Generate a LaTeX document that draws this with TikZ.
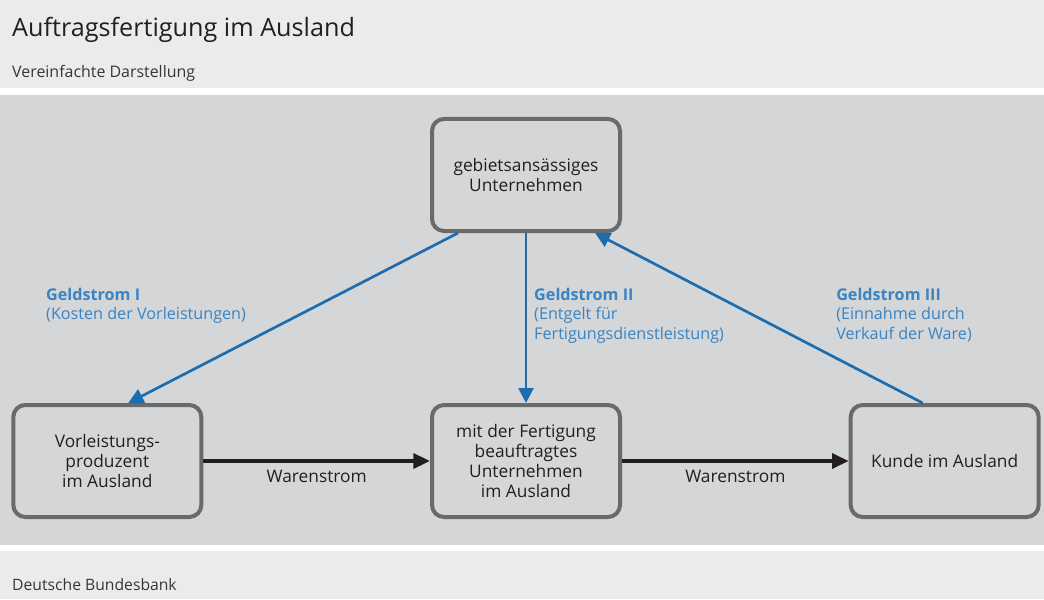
\documentclass[tikz,border=0pt]{standalone}
\usepackage{fontspec}
\setmainfont{Open Sans}
\usetikzlibrary{arrows.meta,positioning}

\definecolor{kopfgrau}{HTML}{EBEBED}
\definecolor{flaechegrau}{HTML}{D5D6D8}
\definecolor{rahmengrau}{HTML}{6A6A6B}
\definecolor{geldblau}{HTML}{1C6CAE}
\definecolor{textblau}{HTML}{3A84C2}
\definecolor{schrift}{HTML}{231F20}

\tikzstyle{kasten} = [draw=rahmengrau, line width=1.2mm, rounded corners=3.6mm, minimum width=56.4mm, minimum height=33.6mm, align=center, text=schrift, font=\fontsize{14.8}{17}\selectfont]
\tikzstyle{arrow} = [-{Triangle[length=5mm,width=4.5mm]}, line width=1mm, schrift]
\tikzstyle{geldpfeil} = [-{Triangle[length=4.5mm,width=4.5mm]}, line width=0.8mm, geldblau]
\tikzstyle{geldtext} = [anchor=north west, align=left, inner sep=0pt, text=textblau, font=\fontsize{13.8}{16.5}\selectfont]

\begin{document}
\begin{tikzpicture}[x=0.3mm, y=-0.3mm, node distance=51mm and 68mm]

% Background
\fill[white] (0,0) rectangle (1044,599);
\fill[kopfgrau] (0,0) rectangle (1044,88);
\fill[flaechegrau] (0,95) rectangle (1044,545);
\fill[kopfgrau] (0,551) rectangle (1044,599);
\useasboundingbox (0,0) rectangle (1044,599);

\node (titel) [anchor=base west, inner sep=0pt, text=schrift, font=\fontsize{21.5}{25}\selectfont] at (12,37) {Auftragsfertigung im Ausland};
\node (untertitel) [anchor=base west, inner sep=0pt, text=schrift!90, font=\fontsize{13.6}{16}\selectfont] at (12,78) {Vereinfachte Darstellung};
\node (quelle) [anchor=base west, inner sep=0pt, text=schrift!90, font=\fontsize{13.4}{16}\selectfont] at (12,590) {Deutsche Bundesbank};

% Nodes
\node (mitte) [kasten] at (526,461) {mit der Fertigung\\beauftragtes\\Unternehmen\\im Ausland};
\node (vorl) [kasten, left=of mitte] {Vorleistungs-\\produzent\\im Ausland};
\node (kunde) [kasten, right=of mitte] {Kunde im Ausland};
\node (geb) [kasten, above=of mitte] {gebietsansässiges\\Unternehmen};

\node (geld1) [geldtext] at (46,288) {\textbf{Geldstrom I}\\(Kosten der Vorleistungen)};
\node (geld2) [geldtext] at (534,288) {\textbf{Geldstrom II}\\(Entgelt für\\Fertigungsdienstleistung)};
\node (geld3) [geldtext] at (836,288) {\textbf{Geldstrom III}\\(Einnahme durch\\Verkauf der Ware)};

% Arrows
\draw [arrow] (vorl) -- node[below, yshift=-1.1mm, text=schrift, font=\fontsize{14.8}{17}\selectfont] {Warenstrom} (mitte);
\draw [arrow] (mitte) -- node[below, yshift=-1.1mm, text=schrift, font=\fontsize{14.8}{17}\selectfont] {Warenstrom} (kunde);
\draw [geldpfeil] ([xshift=-20.4mm]geb.south) -- ([xshift=6.3mm]vorl.north);
\draw [geldpfeil] (geb.south) -- (mitte.north);
\draw [geldpfeil] ([xshift=-6.6mm]kunde.north) -- ([xshift=20.7mm]geb.south);

\end{tikzpicture}
\end{document}
